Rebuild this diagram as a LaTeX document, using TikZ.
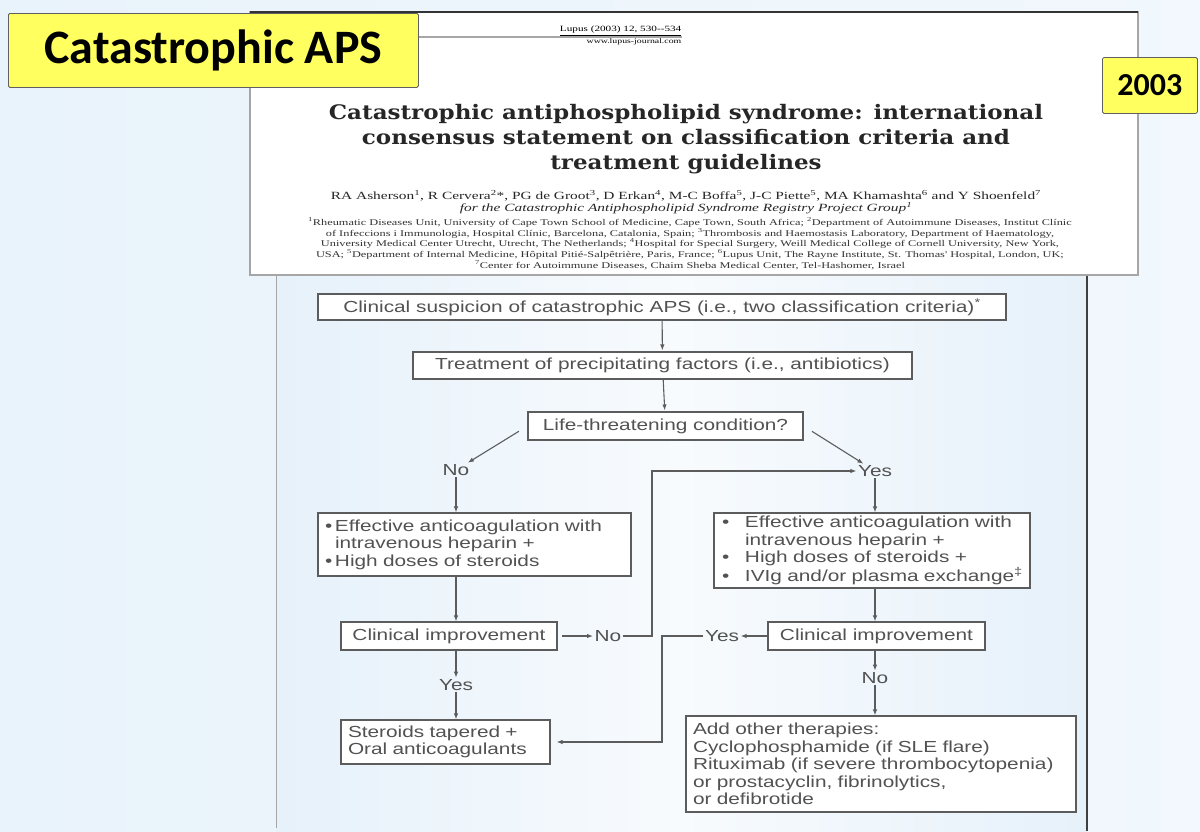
\documentclass[tikz,border=0pt]{standalone}
\usepackage{fontspec}
\usetikzlibrary{arrows.meta}
\setmainfont{Liberation Sans}
\newfontfamily\chartfont[FakeStretch=1.3]{Liberation Sans}
\newfontfamily\slidefont{Carlito}
\newfontfamily\headfont[FakeStretch=1.15]{DejaVu Serif}
\newfontfamily\paperfont[FakeStretch=1.4]{Liberation Serif}
\definecolor{slidebg}{RGB}{233,243,251}
\definecolor{panelbg}{RGB}{230,241,250}
\definecolor{noteyellow}{RGB}{255,255,96}
\definecolor{inkgray}{RGB}{82,82,82}
\definecolor{linegray}{RGB}{92,92,92}

\begin{document}
\begin{tikzpicture}[x=1pt,y=-1pt,
  stepbox/.style={draw=linegray, line width=1.1pt, fill=white, inner xsep=7pt, inner ysep=0pt,
    text=inkgray, font=\chartfont\fontsize{16}{17.5}\selectfont},
  answer/.style={text=inkgray, inner sep=1.5pt, font=\chartfont\fontsize{16}{17.5}\selectfont},
  arr/.style={draw=linegray, line width=1.1pt, -{Latex[length=6pt,width=4.5pt]}},
  tag/.style={draw=gray!75!black, fill=noteyellow, line width=0.8pt, rounded corners=1.5pt,
    inner sep=0pt, text=black, font=\slidefont\bfseries}]
  \useasboundingbox (0,0) rectangle (1200,831);
  % ---- slide background ----
  \shade[left color=slidebg, right color=slidebg!60!white] (0,0) rectangle (1200,831);
  % ---- flowchart panel ----
  \shade[left color=panelbg, right color=panelbg, middle color=panelbg!30!white] (276,275) rectangle (1087,831);
  \draw[gray!70, line width=1pt] (276,275) -- (276,828);
  \draw[gray!50!black, line width=1.6pt] (1087,275) -- (1087,831);
  % ---- paper header ----
  \fill[white] (250,12) rectangle (1138,275);
  \draw[gray!70, line width=1.2pt] (250,12) rectangle (1138,275);
  \draw[gray!40!black, line width=1.2pt] (250,12) -- (1138,12);
  \draw[gray!70, line width=1.5pt] (418,37) -- (682,37);
  \node[font=\paperfont\fontsize{8}{8}\selectfont, anchor=south east, inner sep=0.5pt] (journal) at (682,36) {\underline{Lupus (2003) 12, 530--534}};
  \node[font=\paperfont\fontsize{7}{7}\selectfont, anchor=north east, inner sep=0.5pt] (website) at (682,38) {www.lupus-journal.com};
  \node[font=\headfont\bfseries\fontsize{20}{25}\selectfont, align=center, text=black!85] (paperTitle) at (686,139)
    {Catastrophic antiphospholipid syndrome: international\\
     consensus statement on classification criteria and\\
     treatment guidelines};
  \node[font=\paperfont\fontsize{11}{11}\selectfont, text=black!85, inner sep=0pt] (authors) at (686,196)
    {RA Asherson\textsuperscript{1}, R Cervera\textsuperscript{2}*, PG de Groot\textsuperscript{3}, D Erkan\textsuperscript{4}, M-C Boffa\textsuperscript{5}, J-C Piette\textsuperscript{5}, MA Khamashta\textsuperscript{6} and Y Shoenfeld\textsuperscript{7}};
  \node[font=\paperfont\itshape\fontsize{11}{11}\selectfont, text=black!85, inner sep=0pt] (group) at (686,208.5)
    {for the Catastrophic Antiphospholipid Syndrome Registry Project Group\textsuperscript{1}};
  \node[font=\paperfont\fontsize{8.8}{9.3}\selectfont, align=center, text=black!80, inner sep=0pt] (affil) at (690,243.5)
    {\textsuperscript{1}Rheumatic Diseases Unit, University of Cape Town School of Medicine, Cape Town, South Africa; \textsuperscript{2}Department of Autoimmune Diseases, Institut Clínic\\
     of Infeccions i Immunologia, Hospital Clínic, Barcelona, Catalonia, Spain; \textsuperscript{3}Thrombosis and Haemostasis Laboratory, Department of Haematology,\\
     University Medical Center Utrecht, Utrecht, The Netherlands; \textsuperscript{4}Hospital for Special Surgery, Weill Medical College of Cornell University, New York,\\
     USA; \textsuperscript{5}Department of Internal Medicine, Hôpital Pitié-Salpêtrière, Paris, France; \textsuperscript{6}Lupus Unit, The Rayne Institute, St. Thomas' Hospital, London, UK;\\
     \textsuperscript{7}Center for Autoimmune Diseases, Chaim Sheba Medical Center, Tel-Hashomer, Israel};
  % ---- yellow tags ----
  \node[tag, anchor=north west, minimum width=410pt, minimum height=74pt] (apsTag) at (8,13)
    {\fontsize{48}{48}\selectfont Catastrophic APS};
  \node[tag, anchor=north west, minimum width=95pt, minimum height=56pt] (yearTag) at (1102,57)
    {\fontsize{32}{32}\selectfont 2003};
  % ---- flowchart boxes ----
  \node[stepbox, minimum width=688pt, minimum height=26pt] (suspicion) at (662,307)
    {Clinical suspicion of catastrophic APS (i.e., two classification criteria)\textsuperscript{*}};
  \node[stepbox, minimum width=499pt, minimum height=27pt] (precip) at (662.5,365.5)
    {Treatment of precipitating factors (i.e., antibiotics)};
  \node[stepbox, minimum width=275pt, minimum height=28pt] (lifeThreat) at (665.5,426)
    {Life-threatening condition?};
  \node[answer] (noLife) at (456,470) {No};
  \node[answer] (yesLife) at (875,471) {Yes};
  \node[stepbox, text width=299pt, align=left, minimum height=63pt] (anticoagL) at (474.5,544.5)
    {\makebox[10pt][l]{•}Effective anticoagulation with\\
     \hspace*{10pt}intravenous heparin +\\
     \makebox[10pt][l]{•}High doses of steroids};
  \node[stepbox, inner xsep=3pt, text width=310pt, align=left, minimum height=75pt] (anticoagR) at (872,550.5)
    {\makebox[28pt][l]{\hspace*{5pt}•}Effective anticoagulation with\\
     \hspace*{28pt}intravenous heparin +\\
     \makebox[28pt][l]{\hspace*{5pt}•}High doses of steroids +\\
     \makebox[28pt][l]{\hspace*{5pt}•}IVIg and/or plasma exchange\textsuperscript{‡}};
  \node[stepbox, minimum width=216pt, minimum height=28pt] (improveL) at (449,636) {Clinical improvement};
  \node[stepbox, minimum width=217pt, minimum height=28pt] (improveR) at (876.5,636) {Clinical improvement};
  \node[answer] (noImprove) at (608,636) {No};
  \node[answer] (yesImprove) at (722,636) {Yes};
  \node[answer] (yesTaper) at (456,685) {Yes};
  \node[answer] (noOther) at (875,678) {No};
  \node[stepbox, text width=195pt, align=left, minimum height=44pt] (taper) at (445.5,742)
    {Steroids tapered +\\Oral anticoagulants};
  \node[stepbox, text width=376pt, align=left, minimum height=96pt] (otherTher) at (881,764)
    {Add other therapies:\\
     Cyclophosphamide (if SLE flare)\\
     Rituximab (if severe thrombocytopenia)\\
     or prostacyclin, fibrinolytics,\\
     or defibrotide};
  \coordinate (bendL) at (652,636);
  \coordinate (bendR) at (662,636);
  % ---- connectors ----
  \draw[arr, shorten >=1pt] (suspicion) -- (precip);
  \draw[arr, shorten >=1pt] (precip) -- (lifeThreat);
  \draw[arr, shorten <=10pt] (lifeThreat.west) -- (noLife);
  \draw[arr, shorten <=10pt] (lifeThreat.east) -- (yesLife);
  \draw[arr] (noLife) -- (anticoagL.north -| noLife);
  \draw[arr] (anticoagL.south -| noLife) -- (improveL.north -| noLife);
  \draw[arr, shorten <=4pt] (improveL) -- (noImprove);
  \draw[arr] (noImprove.east) -- (bendL) |- (yesLife);
  \draw[arr] (improveL.south -| yesTaper) -- (yesTaper);
  \draw[arr] (yesTaper) -- (taper.north -| yesTaper);
  \draw[arr] (yesLife) -- (anticoagR.north -| yesLife);
  \draw[arr] (anticoagR.south -| yesLife) -- (improveR.north -| yesLife);
  \draw[arr] (improveR) -- (yesImprove);
  \draw[arr, shorten >=6pt] (yesImprove.west) -- (bendR) |- (taper);
  \draw[arr] (improveR.south -| noOther) -- (noOther);
  \draw[arr] (noOther) -- (otherTher.north -| noOther);
\end{tikzpicture}
\end{document}
